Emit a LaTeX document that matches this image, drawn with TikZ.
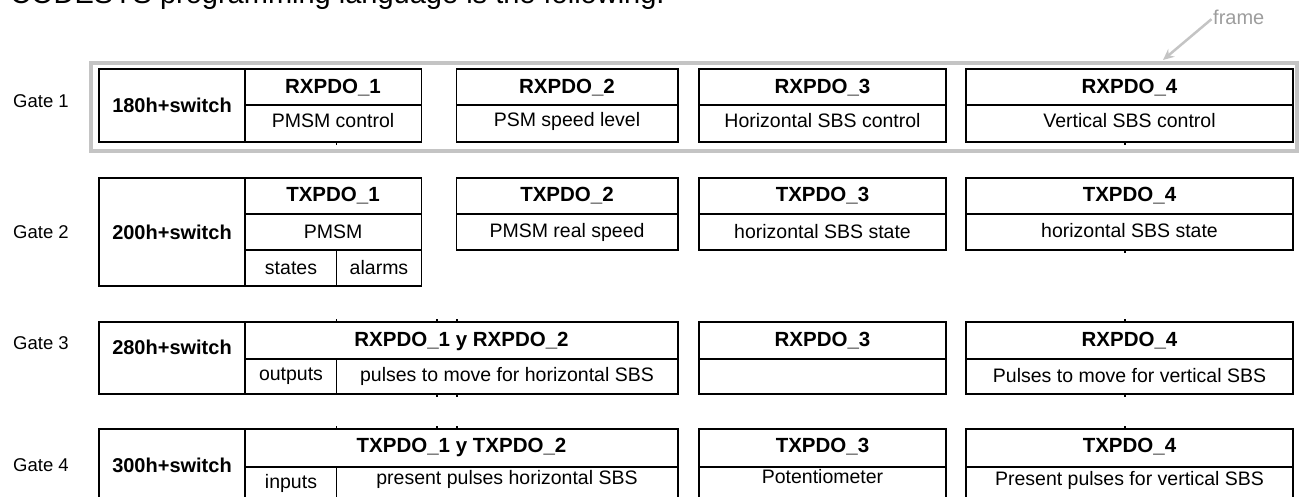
\documentclass[tikz,border=0pt]{standalone}
\usepackage{fontspec}
\setmainfont{Liberation Sans}
\usetikzlibrary{arrows.meta}
\definecolor{framegray}{HTML}{C4C4C4}

\begin{document}
\begin{tikzpicture}[
  x=1pt, y=-1pt,
  grid/.style={line width=1.3pt, black},
  gate label/.style={font=\fontsize{18.5}{20}\selectfont, inner sep=0pt},
  head/.style={font=\fontsize{20}{22}\selectfont\bfseries, inner sep=0pt},
  pdo/.style={font=\fontsize{20.5}{22}\selectfont\bfseries, inner sep=0pt},
  cell/.style={font=\fontsize{19.5}{21}\selectfont, inner sep=0pt}
]
\useasboundingbox (0,0) rectangle (1299,497);

% Intro line (cut by the page)
\node[font=\fontsize{29}{30}\selectfont, anchor=base west, inner sep=0pt] (intro) at (10,4)
  {CODESYS programming language is the following:};

% Frame round gate 1
\draw[framegray, line width=4pt] (91,63) rectangle (1297,151);
\node[font=\fontsize{20}{22}\selectfont, text=framegray!80!black, anchor=base west, inner sep=0pt] (framelbl) at (1213,25) {frame};
\coordinate (frametip) at (1163,60);
\draw[framegray, line width=2.5pt, -{Stealth[length=11pt,width=10pt]}, shorten <=2pt] (framelbl.west) -- (frametip);

% Gate 1
\foreach \xa/\xb in {99/421.5, 456.5/678, 699/946, 966/1293}
  \draw[grid] (\xa,69) rectangle (\xb,142);
\draw[grid] (245,69) -- (245,142);
\foreach \xa/\xb in {245/421.5, 456.5/678, 699/946, 966/1293}
  \draw[grid] (\xa,105) -- (\xb,105);

% Gate 2
\draw[grid] (99,178) rectangle (421.5,286);
\draw[grid] (245,178) -- (245,286) (245,214) -- (421.5,214) (245,250) -- (421.5,250) (336.5,250) -- (336.5,286);
\foreach \xa/\xb in {456.5/678, 699/946, 966/1293}
  \draw[grid] (\xa,178) rectangle (\xb,250) (\xa,214) -- (\xb,214);

% Gate 3
\draw[grid] (99,322) rectangle (678,394);
\draw[grid] (245,322) -- (245,394) (245,359) -- (678,359) (336.5,359) -- (336.5,394);
\foreach \xa/\xb in {699/946, 966/1293}
  \draw[grid] (\xa,322) rectangle (\xb,394) (\xa,359) -- (\xb,359);

% Gate 4 (bottom runs off the page)
\draw[grid] (99,429) rectangle (678,512);
\draw[grid] (245,429) -- (245,512) (245,467) -- (678,467) (336.5,467) -- (336.5,512);
\foreach \xa/\xb in {699/946, 966/1293}
  \draw[grid] (\xa,429) rectangle (\xb,512) (\xa,467) -- (\xb,467);

% small stubs left by the table grid
\foreach \x/\y/\d in {336.5/142/3, 1125/142/3, 1125/250/3, 336.5/322/-3, 437/322/-3, 457/322/-3,
    437/394/3, 457/394/3, 1125/322/-3, 1125/394/3, 336.5/429/-3, 437/429/-3, 457/429/-3, 1125/429/-3}
  \draw[grid] (\x,\y) -- ++(0,\d);

% Gate labels and headers
\node[gate label] (g1) at (41,101) {Gate 1};
\node[gate label] (g2) at (41,232) {Gate 2};
\node[gate label] (g3) at (41,343) {Gate 3};
\node[gate label] (g4) at (41,465) {Gate 4};
\node[head] (h1) at (172,105) {180h+switch};
\node[head] (h2) at (172,232) {200h+switch};
\node[head] (h3) at (172,347) {280h+switch};
\node[head] (h4) at (172,465) {300h+switch};

% Gate 1 cells
\node[pdo] (rx1) at (333,88) {RXPDO\_1};
\node[cell] (rx1c) at (333,121) {PMSM control};
\node[pdo] (rx2) at (567,88) {RXPDO\_2};
\node[cell] (rx2c) at (567,121) {PSM speed level};
\node[pdo] (rx3) at (822.5,88) {RXPDO\_3};
\node[cell] (rx3c) at (822.5,121) {Horizontal SBS control};
\node[pdo] (rx4) at (1129.5,88) {RXPDO\_4};
\node[cell] (rx4c) at (1129.5,121) {Vertical SBS control};

% Gate 2 cells
\node[pdo] (tx1) at (333,196) {TXPDO\_1};
\node[cell] (tx1c) at (333,232) {PMSM};
\node[cell] (tx1s) at (291,268) {states};
\node[cell] (tx1a) at (379,268) {alarms};
\node[pdo] (tx2) at (567,196) {TXPDO\_2};
\node[cell] (tx2c) at (567,232) {PMSM real speed};
\node[pdo] (tx3) at (822.5,196) {TXPDO\_3};
\node[cell] (tx3c) at (822.5,232) {horizontal SBS state};
\node[pdo] (tx4) at (1129.5,196) {TXPDO\_4};
\node[cell] (tx4c) at (1129.5,231) {horizontal SBS state};

% Gate 3 cells
\node[pdo] (rx12) at (461.5,341) {RXPDO\_1 y RXPDO\_2};
\node[cell] (rx12o) at (291,376) {outputs};
\node[cell] (rx12c) at (507,376) {pulses to move for horizontal SBS};
\node[pdo] (rx3b) at (822.5,341) {RXPDO\_3};
\node[pdo] (rx4b) at (1129.5,341) {RXPDO\_4};
\node[cell] (rx4bc) at (1129.5,376) {Pulses to move for vertical SBS};

% Gate 4 cells
\node[pdo] (tx12) at (461.5,447) {TXPDO\_1 y TXPDO\_2};
\node[cell] (tx12i) at (291,483) {inputs};
\node[cell] (tx12c) at (507,479) {present pulses horizontal SBS};
\node[pdo] (tx3b) at (822.5,447) {TXPDO\_3};
\node[cell] (tx3bc) at (822.5,477) {Potentiometer};
\node[pdo] (tx4b) at (1129.5,447) {TXPDO\_4};
\node[cell] (tx4bc) at (1129.5,480) {Present pulses for vertical SBS};
\end{tikzpicture}
\end{document}
